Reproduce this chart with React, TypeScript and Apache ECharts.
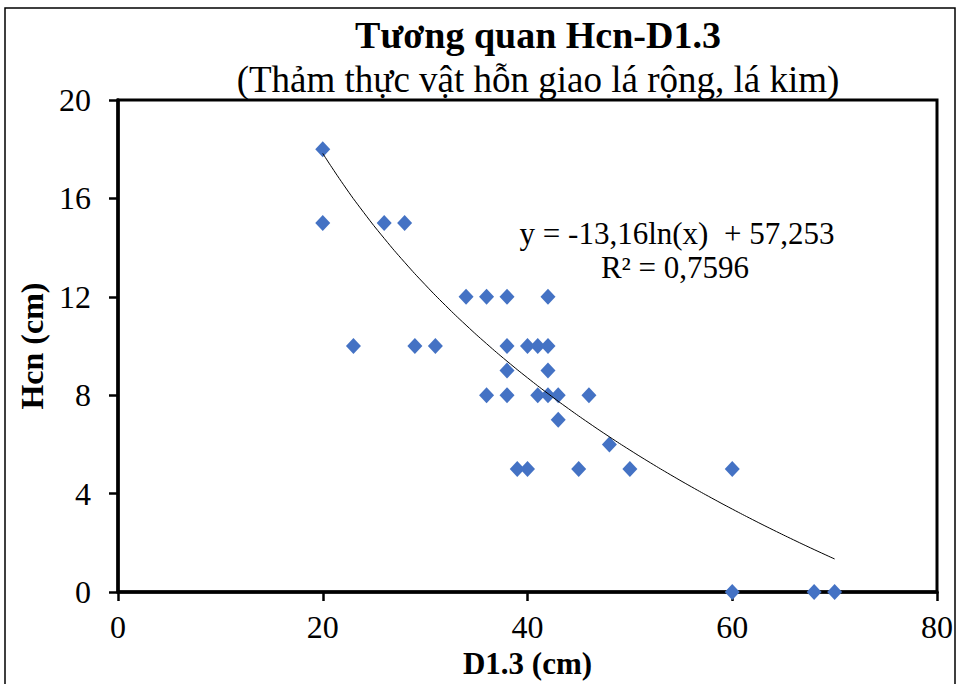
import React, { useEffect, useRef } from "react";
import * as echarts from "echarts";

const d13: number[] = [20, 20, 26, 28, 23, 29, 31, 34, 36, 38, 42, 38, 40, 41, 42, 38, 42, 36, 38, 41, 42, 43, 46, 43, 48, 39, 40, 45, 50, 60, 60, 68, 70];
const hcn: number[] = [18, 15, 15, 15, 10, 10, 10, 12, 12, 12, 12, 10, 10, 10, 10, 9, 9, 8, 8, 8, 8, 8, 8, 7, 6, 5, 5, 5, 5, 5, 0, 0, 0];

// Trend line coefficients as printed on the chart: y = a ln(x) + b
const trendA = -13.16;
const trendB = 57.253;
const trendXs: number[] = [20, 22, 24, 26, 28, 30, 32, 34, 36, 38, 40, 42, 44, 46, 48, 50, 52, 54, 56, 58, 60, 62, 64, 66, 68, 70];

const xTicks = [0, 20, 40, 60, 80];
const yTicks = [0, 4, 8, 12, 16, 20];

const FONT = "'Liberation Serif', 'Times New Roman', serif";

export default function App() {
  const ref = useRef<HTMLDivElement>(null);
  useEffect(() => {
    if (!ref.current) return;
    const chart = echarts.init(ref.current, undefined, { renderer: "svg" });
    const points = d13.map((x, i) => [x, hcn[i]]);
    const trend = trendXs.map((x) => [x, trendA * Math.log(x) + trendB]);
    chart.setOption({
      animation: false,
      backgroundColor: "#fff",
      textStyle: { fontFamily: FONT },
      grid: {
        left: 118,
        top: 100,
        width: 819,
        height: 496,
        show: true,
        borderColor: "#000",
        borderWidth: 3,
        backgroundColor: "transparent",
      },
      graphic: [
        {
          type: "rect",
          shape: { x: 5, y: 8, width: 950, height: 700 },
          style: { fill: "none", stroke: "#000", lineWidth: 1.5 },
          silent: true,
          z: 0,
        },
        {
          type: "text",
          x: 538,
          y: 35,
          style: {
            text: "Tương quan Hcn-D1.3",
            font: `bold 38px ${FONT}`,
            fill: "#000",
            align: "center",
            verticalAlign: "middle",
          },
        },
        {
          type: "text",
          x: 538,
          y: 79,
          style: {
            text: "(Thảm thực vật hỗn giao lá rộng, lá kim)",
            font: `37px ${FONT}`,
            fill: "#000",
            align: "center",
            verticalAlign: "middle",
          },
        },
        {
          type: "text",
          x: 677,
          y: 233,
          style: {
            text: "y = -13,16ln(x)  + 57,253",
            font: `31px ${FONT}`,
            fill: "#000",
            align: "center",
            verticalAlign: "middle",
          },
        },
        {
          type: "text",
          x: 675,
          y: 267,
          style: {
            text: "R² = 0,7596",
            font: `31px ${FONT}`,
            fill: "#000",
            align: "center",
            verticalAlign: "middle",
          },
        },
      ],
      xAxis: {
        type: "value",
        min: xTicks[0],
        max: xTicks[xTicks.length - 1],
        interval: 20,
        name: "D1.3 (cm)",
        nameLocation: "middle",
        nameGap: 56,
        nameTextStyle: { fontFamily: FONT, fontWeight: "bold", fontSize: 31, color: "#000" },
        axisLine: { show: true, lineStyle: { color: "#000", width: 3.5 } },
        axisTick: { show: true, inside: false, length: 9, lineStyle: { color: "#000", width: 2.5 } },
        axisLabel: { fontFamily: FONT, fontSize: 32, color: "#000", margin: 19 },
        splitLine: { show: false },
      },
      yAxis: {
        type: "value",
        min: yTicks[0],
        max: yTicks[yTicks.length - 1],
        interval: 4,
        name: "Hcn (cm)",
        nameLocation: "middle",
        nameGap: 66,
        nameRotate: 90,
        nameTextStyle: { fontFamily: FONT, fontWeight: "bold", fontSize: 32, color: "#000" },
        axisLine: { show: true, lineStyle: { color: "#000", width: 3.5 } },
        axisTick: { show: true, inside: false, length: 9, lineStyle: { color: "#000", width: 2.5 } },
        axisLabel: { fontFamily: FONT, fontSize: 32, color: "#000", margin: 27 },
        splitLine: { show: false },
      },
      series: [
        {
          type: "line",
          data: trend,
          smooth: true,
          symbol: "none",
          lineStyle: { color: "#000", width: 1 },
          z: 3,
          silent: true,
        },
        {
          type: "scatter",
          data: points,
          symbol: "diamond",
          symbolSize: [15, 16],
          itemStyle: { color: "#4472C4", opacity: 1 },
          z: 2,
        },
      ],
    });
    return () => chart.dispose();
  }, []);
  return (
    <div
      ref={ref}
      style={{ position: "fixed", left: 0, top: 0, width: 960, height: 684, background: "#fff" }}
    />
  );
}
